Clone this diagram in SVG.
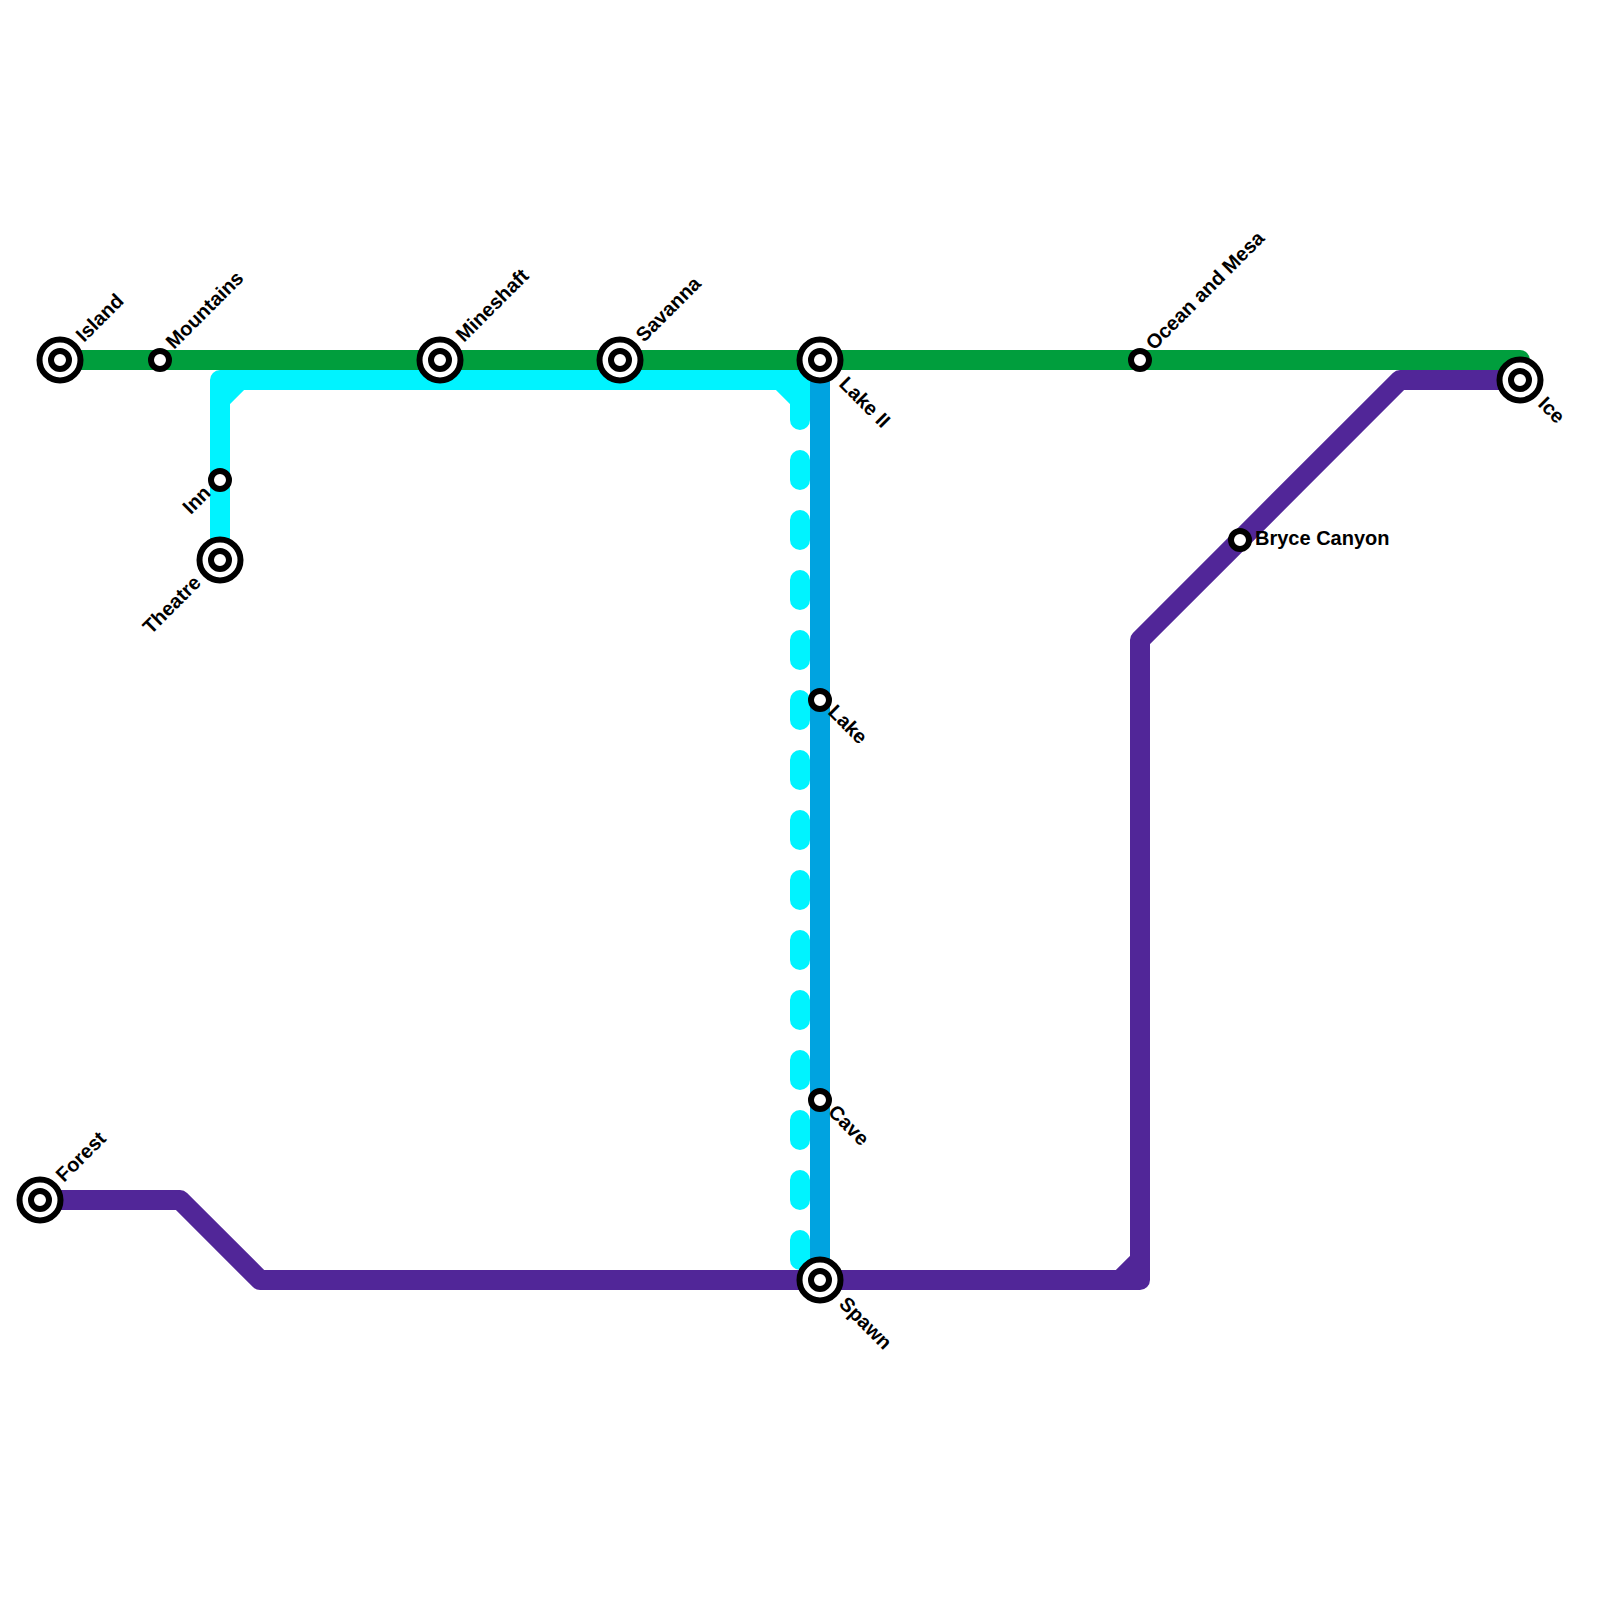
<svg xmlns="http://www.w3.org/2000/svg" width="1600" height="1600" viewBox="0 0 1600 1600">
<style>
.ln{fill:none;stroke-width:20;stroke-linejoin:round;stroke-linecap:round}
.b{stroke-linecap:butt}
.o{fill:#fff;stroke:#000;stroke-width:6}
text{font-family:"Liberation Sans",Arial,sans-serif;font-size:20px;font-weight:700;fill:#000}
</style>
<rect width="1600" height="1600" fill="#fff"/>
<g id="connectors">
<path class="ln" stroke="#00f3ff" d="M800 400V1260" stroke-dasharray="20 40"/>
<path class="ln b" stroke="#00f3ff" d="M220 560V380"/>
<path class="ln" stroke="#00f3ff" d="M220 400V380H800V400M220 400L240 380M780 380L800 400"/>
<path class="ln b" stroke="#00a3e0" d="M820 360V1280"/>
<path class="ln" stroke="#009e3d" d="M60 360H1520V380"/>
<path class="ln" stroke="#512698" d="M40 1200H180L260 1280H1140V640L1400 380H1520M1120 1280L1140 1260"/>
</g>
<g id="node-island"><circle class="o" cx="60" cy="360" r="20.5"/><circle class="o" cx="60" cy="360" r="9"/><text transform="translate(84 343) rotate(-45)">Island</text></g>
<g id="node-mountains"><circle class="o" cx="160" cy="360" r="9"/><text transform="translate(174 350) rotate(-45)">Mountains</text></g>
<g id="node-mineshaft"><circle class="o" cx="440" cy="360" r="20.5"/><circle class="o" cx="440" cy="360" r="9"/><text transform="translate(464 343) rotate(-45)">Mineshaft</text></g>
<g id="node-savanna"><circle class="o" cx="620" cy="360" r="20.5"/><circle class="o" cx="620" cy="360" r="9"/><text transform="translate(644 343) rotate(-45)">Savanna</text></g>
<g id="node-lake2"><circle class="o" cx="820" cy="360" r="20.5"/><circle class="o" cx="820" cy="360" r="9"/><text transform="translate(838 385) rotate(45)">Lake II</text></g>
<g id="node-ocean"><circle class="o" cx="1140" cy="360" r="9"/><text transform="translate(1154 351) rotate(-45)">Ocean and Mesa</text></g>
<g id="node-ice"><circle class="o" cx="1520" cy="380" r="20.5"/><circle class="o" cx="1520" cy="380" r="9"/><text transform="translate(1537 405) rotate(45)">Ice</text></g>
<g id="node-bryce"><circle class="o" cx="1240" cy="540" r="9"/><text x="1255" y="545">Bryce Canyon</text></g>
<g id="node-inn"><circle class="o" cx="220" cy="480" r="9"/><text text-anchor="end" transform="translate(212 494) rotate(-45)">Inn</text></g>
<g id="node-theatre"><circle class="o" cx="220" cy="560" r="20.5"/><circle class="o" cx="220" cy="560" r="9"/><text text-anchor="end" transform="translate(202 584) rotate(-45)">Theatre</text></g>
<g id="node-lake"><circle class="o" cx="820" cy="700" r="9"/><text transform="translate(827 713) rotate(45)">Lake</text></g>
<g id="node-cave"><circle class="o" cx="820" cy="1100" r="9"/><text transform="translate(827 1113) rotate(45)">Cave</text></g>
<g id="node-forest"><circle class="o" cx="40" cy="1200" r="20.5"/><circle class="o" cx="40" cy="1200" r="9"/><text transform="translate(64 1183) rotate(-45)">Forest</text></g>
<g id="node-spawn"><circle class="o" cx="820" cy="1280" r="20.5"/><circle class="o" cx="820" cy="1280" r="9"/><text transform="translate(838 1305) rotate(45)">Spawn</text></g>
</svg>
